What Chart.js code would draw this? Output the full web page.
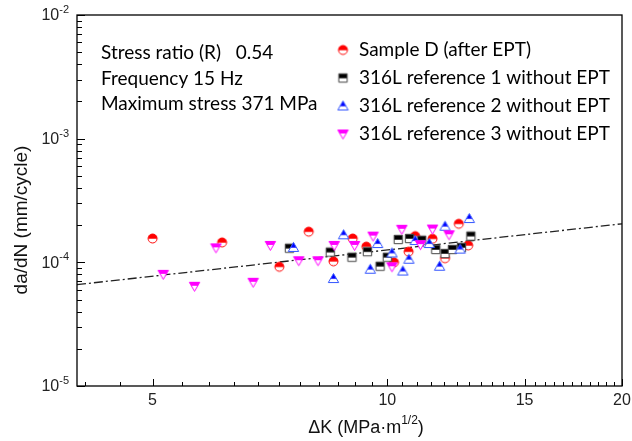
<!DOCTYPE html>
<html>
<head>
<meta charset="utf-8">
<script src="https://cdn.jsdelivr.net/npm/chart.js@4"></script>
<style>
    html, body { margin: 0; padding: 0; background: #fff; }
    #wrap { width: 632px; height: 441px; }
</style>
</head>
<body>
<div id="wrap"><canvas id="chart" width="632" height="441"></canvas></div>
<script>
// =============================
// DATA
// =============================
const xTickValues = [5, 10, 15, 20];
const xTickLabels = ["5", "10", "15", "20"];
const yTickValues = [1e-5, 1e-4, 1e-3, 1e-2];
const yTickExponents = ["-5", "-4", "-3", "-2"];

const sampleDX = [5.0, 6.14, 7.93, 7.27, 8.53, 9.03, 9.40, 10.2, 10.65, 10.86, 11.43, 11.86, 12.35, 12.70];
const sampleDY = [1.56e-4, 1.45e-4, 1.77e-4, 9.2e-5, 1.02e-4, 1.56e-4, 1.34e-4, 1.0e-4, 1.22e-4, 1.63e-4, 1.55e-4, 1.08e-4, 2.05e-4, 1.37e-4];

const ref1X = [7.49, 8.45, 9.01, 9.43, 9.79, 10.0, 10.33, 10.68, 11.07, 11.54, 11.86, 12.12, 12.45, 12.80];
const ref1Y = [1.30e-4, 1.21e-4, 1.10e-4, 1.22e-4, 9.3e-5, 1.10e-4, 1.53e-4, 1.56e-4, 1.51e-4, 1.27e-4, 1.18e-4, 1.27e-4, 1.32e-4, 1.63e-4];

const ref2X = [7.58, 8.53, 8.79, 9.51, 9.72, 10.14, 10.47, 10.66, 10.86, 11.32, 11.67, 11.86, 12.40, 12.74];
const ref2Y = [1.32e-4, 7.4e-5, 1.67e-4, 8.8e-5, 1.42e-4, 1.19e-4, 8.5e-5, 1.06e-4, 1.50e-4, 1.42e-4, 9.3e-5, 1.96e-4, 1.28e-4, 2.26e-4];

const ref3X = [5.16, 5.66, 6.03, 6.73, 7.08, 7.70, 8.15, 8.55, 9.08, 9.59, 10.14, 10.44, 11.03, 11.43, 12.0];
const ref3Y = [8.0e-5, 6.4e-5, 1.31e-4, 6.9e-5, 1.37e-4, 1.03e-4, 1.03e-4, 1.37e-4, 1.37e-4, 1.63e-4, 9.2e-5, 1.85e-4, 1.39e-4, 1.86e-4, 1.67e-4];

const fitX = [4, 20];
const fitY = [6.6e-5, 2.05e-4];

const legendLabels = [
    "Sample D (after EPT)",
    "316L reference 1 without EPT",
    "316L reference 2 without EPT",
    "316L reference 3 without EPT"
];
const infoLines = ["Stress ratio (R)   0.54", "Frequency 15 Hz", "Maximum stress 371 MPa"];

const TEXT_FONT = "Lato, 'Open Sans', sans-serif";
const AXIS_FONT = "'Liberation Sans', Arial, sans-serif";

// =============================
// MARKERS (half filled)
// =============================
function makeMarker(shape, color, lower) {
    const s = 13;
    const c = document.createElement("canvas");
    c.width = s;
    c.height = s;
    const ctx = c.getContext("2d");
    const cx = s / 2, cy = s / 2;

    const path = () => {
        ctx.beginPath();
        if (shape === "circle") {
            ctx.arc(cx, cy, 4.5, 0, Math.PI * 2);
        } else if (shape === "square") {
            ctx.rect(cx - 4.2, cy - 4.2, 8.4, 8.4);
        } else if (shape === "up") {
            ctx.moveTo(cx, cy - 5);
            ctx.lineTo(cx + 5.2, cy + 4);
            ctx.lineTo(cx - 5.2, cy + 4);
            ctx.closePath();
        } else {
            ctx.moveTo(cx - 5.2, cy - 4);
            ctx.lineTo(cx + 5.2, cy - 4);
            ctx.lineTo(cx, cy + 5);
            ctx.closePath();
        }
    };

    ctx.fillStyle = "#fff";
    path();
    ctx.fill();

    ctx.save();
    ctx.beginPath();
    ctx.rect(0, 0, s, shape === "down" ? cy - 0.5 : cy + 0.3);
    ctx.clip();
    ctx.fillStyle = color;
    path();
    ctx.fill();
    ctx.restore();

    ctx.strokeStyle = lower;
    ctx.lineWidth = 1;
    path();
    ctx.stroke();
    return c;
}

const markers = [
    makeMarker("circle", "#ff0000", "#ff0000"),
    makeMarker("square", "#000000", "#444444"),
    makeMarker("up", "#0000ff", "#3355ff"),
    makeMarker("down", "#ff00ff", "#ff00ff")
];

const toPoints = (xs, ys) => xs.map((x, i) => ({ x, y: ys[i] }));

// =============================
// AXES, TEXT, LEGEND
// =============================
const framePlugin = {
    id: "frame",
    afterDraw(chart) {
        const ctx = chart.ctx;
        const a = chart.chartArea;
        const xs = chart.scales.x;
        const ys = chart.scales.y;

        ctx.save();
        ctx.strokeStyle = "#000";
        ctx.lineWidth = 1.3;
        ctx.strokeRect(a.left, a.top, a.right - a.left, a.bottom - a.top);

        // x ticks (inward)
        ctx.lineWidth = 1;
        const xMinor = [];
        [0, 5, 10, 15].forEach(base => {
            for (let k = 1; k <= 10; k++) {
                const v = base + k * 5 / 11;
                if (v > xs.min && v < xs.max) xMinor.push(v);
            }
        });
        ctx.beginPath();
        xMinor.forEach(v => {
            const px = Math.round(xs.getPixelForValue(v)) + 0.5;
            ctx.moveTo(px, a.bottom);
            ctx.lineTo(px, a.bottom - 4);
        });
        xTickValues.forEach(v => {
            const px = Math.round(xs.getPixelForValue(v)) + 0.5;
            ctx.moveTo(px, a.bottom);
            ctx.lineTo(px, a.bottom - 7);
        });
        ctx.stroke();

        // y ticks (inward)
        ctx.beginPath();
        yTickValues.forEach((v, i) => {
            const py = Math.round(ys.getPixelForValue(v)) + 0.5;
            ctx.moveTo(a.left, py);
            ctx.lineTo(a.left + 8, py);
            if (i < yTickValues.length - 1) {
                for (let m = 2; m <= 9; m++) {
                    const my = Math.round(ys.getPixelForValue(v * m)) + 0.5;
                    ctx.moveTo(a.left, my);
                    ctx.lineTo(a.left + 5, my);
                }
            }
        });
        ctx.stroke();

        // tick labels
        ctx.fillStyle = "#222";
        ctx.font = "16px " + AXIS_FONT;
        ctx.textAlign = "center";
        ctx.textBaseline = "middle";
        xTickValues.forEach((v, i) => {
            ctx.fillText(xTickLabels[i], xs.getPixelForValue(v), a.bottom + 15);
        });
        yTickValues.forEach((v, i) => {
            const py = ys.getPixelForValue(v);
            ctx.font = "11px " + AXIS_FONT;
            ctx.textAlign = "left";
            const ew = ctx.measureText(yTickExponents[i]).width;
            ctx.fillText(yTickExponents[i], a.left - 8 - ew, py - 5);
            ctx.font = "16px " + AXIS_FONT;
            ctx.textAlign = "right";
            ctx.fillText("10", a.left - 8 - ew, py + 1);
        });

        // axis titles
        ctx.fillStyle = "#111";
        ctx.font = "18px " + AXIS_FONT;
        ctx.textAlign = "left";
        const t1 = "\u0394K (MPa\u00b7m", t2 = "1/2", t3 = ")";
        const w1 = ctx.measureText(t1).width;
        const w3 = ctx.measureText(t3).width;
        ctx.font = "12px " + AXIS_FONT;
        const w2 = ctx.measureText(t2).width;
        const tx = 366 - (w1 + w2 + w3) / 2;
        const ty = 428;
        ctx.font = "18px " + AXIS_FONT;
        ctx.fillText(t1, tx, ty);
        ctx.font = "12px " + AXIS_FONT;
        ctx.fillText(t2, tx + w1, ty - 7);
        ctx.font = "18px " + AXIS_FONT;
        ctx.fillText(t3, tx + w1 + w2, ty);

        ctx.save();
        ctx.translate(22, 220);
        ctx.rotate(-Math.PI / 2);
        ctx.textAlign = "center";
        ctx.font = "19px " + AXIS_FONT;
        ctx.fillText("da/dN (mm/cycle)", 0, 0);
        ctx.restore();

        // info text
        ctx.font = "19px " + TEXT_FONT;
        ctx.textAlign = "left";
        ctx.fillStyle = "#000";
        infoLines.forEach((t, i) => ctx.fillText(t, 101, 53 + i * 25.5));

        // legend
        legendLabels.forEach((t, i) => {
            const ly = 50 + i * 28;
            const m = markers[i];
            ctx.drawImage(m, 343 - m.width / 2, ly - m.height / 2);
            ctx.fillText(t, 359, ly);
        });
        ctx.restore();
    }
};

// =============================
// CHART
// =============================
const scatterSet = (label, xs, ys, i) => ({
    label,
    data: toPoints(xs, ys),
    pointStyle: markers[i],
    pointRadius: 6,
    showLine: false,
    order: 4 - i
});

new Chart(document.getElementById("chart").getContext("2d"), {
    type: "scatter",
    data: {
        datasets: [
            scatterSet(legendLabels[0], sampleDX, sampleDY, 0),
            scatterSet(legendLabels[1], ref1X, ref1Y, 1),
            scatterSet(legendLabels[2], ref2X, ref2Y, 2),
            scatterSet(legendLabels[3], ref3X, ref3Y, 3),
            {
                label: "fit",
                type: "line",
                data: toPoints(fitX, fitY),
                borderColor: "#222",
                borderWidth: 1.3,
                borderDash: [9, 3, 2, 3],
                pointRadius: 0,
                fill: false,
                order: 10
            }
        ]
    },
    options: {
        responsive: false,
        animation: false,
        layout: { padding: { top: 15, right: 10, left: 0, bottom: 0 } },
        plugins: { legend: { display: false }, tooltip: { enabled: false } },
        scales: {
            x: {
                type: "logarithmic",
                min: 4,
                max: 20,
                ticks: { display: false },
                grid: { display: false },
                border: { display: false },
                afterFit: s => { s.height = 55; }
            },
            y: {
                type: "logarithmic",
                min: 1e-5,
                max: 1e-2,
                ticks: { display: false },
                grid: { display: false },
                border: { display: false },
                afterFit: s => { s.width = 77; }
            }
        }
    },
    plugins: [framePlugin]
});
</script>
</body>
</html>
